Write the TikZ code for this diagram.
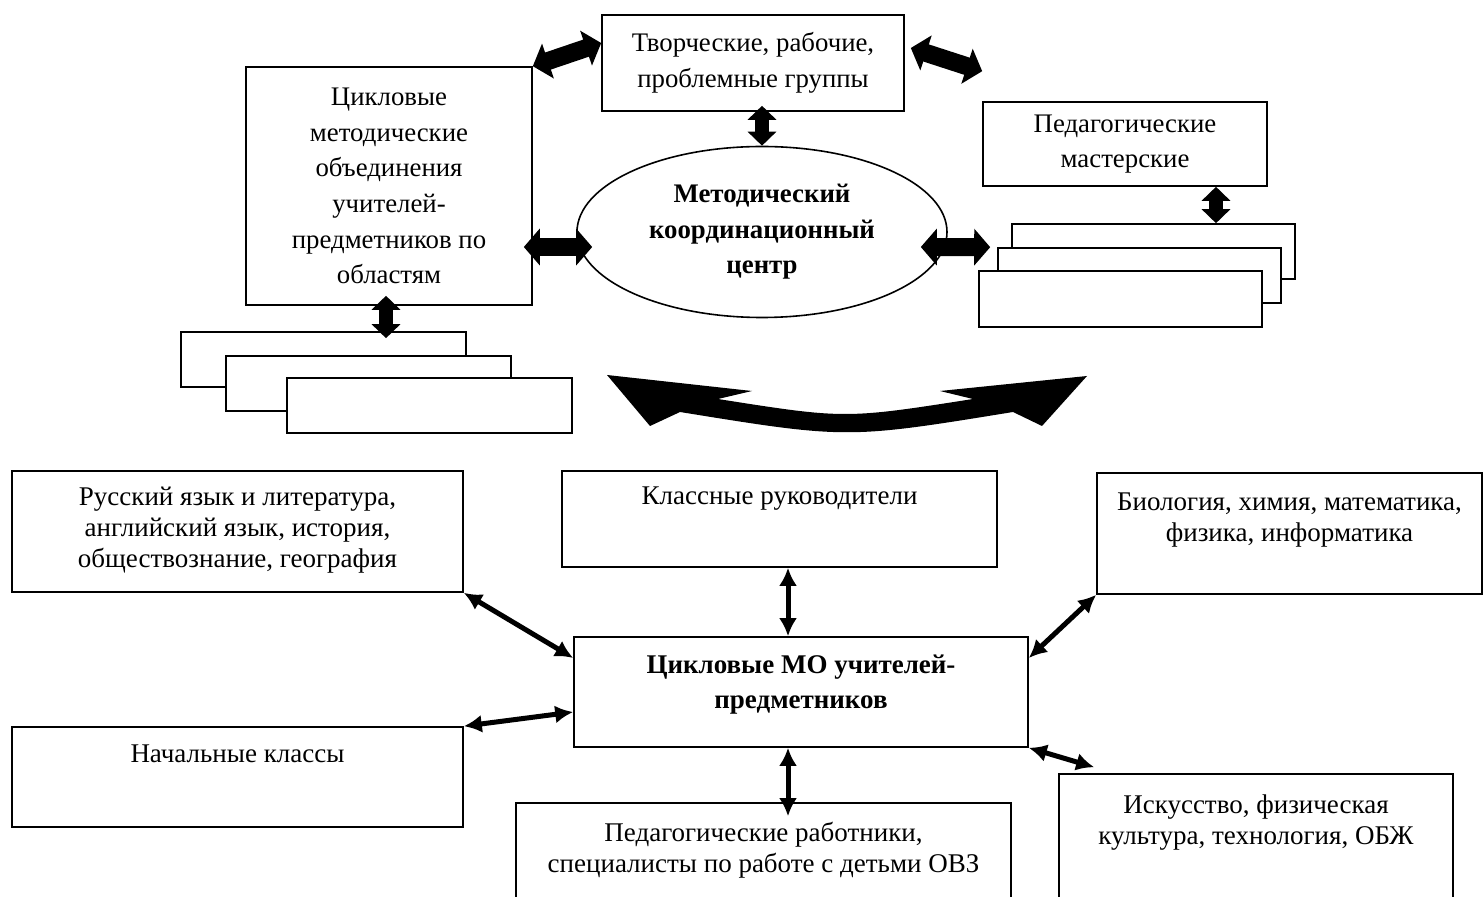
\documentclass[tikz,border=0pt]{standalone}
\usepackage{fontspec}
\setmainfont{Liberation Serif}
\usetikzlibrary{positioning}
\usetikzlibrary{shapes}
\usetikzlibrary{arrows.meta}

\begin{document}
\begin{tikzpicture}[x=0.5pt,y=-0.5pt,align=center,
blok/.style={draw,line width=0.8pt,inner sep=0pt},
stopka/.style={blok,fill=white,minimum height=27.5pt},
tekst/.style={inner sep=0pt,font=\fontsize{13.5}{15.5}\selectfont},
verh/.style={font=\fontsize{13.4}{17.8}\selectfont},
tolstaya/.style={{Triangle[length=8pt,width=18pt]}-{Triangle[length=8pt,width=18pt]},line width=9pt},
srednyaya/.style={{Triangle[length=7pt,width=14pt]}-{Triangle[length=7pt,width=14pt]},line width=7pt},
tonkaya/.style={{Latex[length=9pt,width=9pt]}-{Latex[length=9pt,width=9pt]},line width=2.5pt}
]
\useasboundingbox (0,0) rectangle (1483,897);
\clip (0,0) rectangle (1483,897);
%--
\node[blok,verh,minimum width=151pt,minimum height=48pt](tvorch) at (753,63){Творческие, рабочие,\\проблемные группы};
\node[blok,verh,minimum width=143pt,minimum height=119pt](cikl) at (389,186){Цикловые\\методические\\объединения\\учителей-\\предметников по\\областям};
\node[blok,ellipse,font=\fontsize{13.4}{17.8}\selectfont\bfseries,minimum width=185pt,minimum height=85.5pt](centr) at (762,232){Методический\\координационный\\центр};
\node[blok,verh,minimum width=142pt,minimum height=42pt](pedmast) at (1125,144){Педагогические\\мастерские};
%--
\node[stopka,minimum width=142.5pt](sl1) at (323.5,359.5){};
\node[stopka,minimum width=142.5pt](sl2) at ([xshift=22.5pt,yshift=-12pt]sl1.center){};
\node[stopka,minimum width=142.5pt](sl3) at ([xshift=30.5pt,yshift=-11pt]sl2.center){};
%--
\node[stopka,minimum width=141.5pt](sr1) at (1153.5,251.5){};
\node[stopka,minimum width=141.5pt](sr2) at ([xshift=-7pt,yshift=-12pt]sr1.center){};
\node[stopka,minimum width=141.5pt,minimum height=28pt](sr3) at ([xshift=-9.5pt,yshift=-11.75pt]sr2.center){};
%--
\draw[tolstaya] (cikl.north east) -- ([yshift=10pt]tvorch.west);
\draw[tolstaya] ([xshift=3pt,yshift=7.5pt]tvorch.east) -- ([yshift=15pt]pedmast.north west);
\draw[srednyaya,shorten <=-3pt] (centr.north |- tvorch.south) -- (centr.north);
\draw[tolstaya] ([xshift=-4.5pt,yshift=-30.5pt]cikl.east) -- ([xshift=8pt,yshift=-7.5pt]centr.west);
\draw[tolstaya] ([xshift=-13.5pt,yshift=-7.5pt]centr.east) -- ([xshift=-3.5pt]sr2.north west);
\draw[srednyaya] ([xshift=45.5pt]pedmast.south) -- ([xshift=45.5pt]pedmast.south |- sr1.north);
\draw[srednyaya,shorten <=-5pt,shorten >=-3.5pt] ([xshift=-1.5pt]cikl.south) -- ([xshift=-1.5pt]cikl.south |- sl1.north);
%-- bolshaya strelka
\fill (607,375) -- (752,391) -- (718,399) .. controls (845,419) .. (973,399) -- (940,391) -- (1087,376) -- (1042,426) -- (1013,412) .. controls (847,439) .. (680,412) -- (650,426) -- cycle;
%----
\node[blok,minimum width=225.5pt,minimum height=60.5pt](russ) at (237.5,531.5){};
\node[tekst,below=8.25pt of russ.north](t1){Русский язык и литература,\\английский язык, история,\\обществознание, география};
%--
\node[blok,minimum width=217.5pt,minimum height=48pt](klass) at (779.5,519){};
\node[tekst,below=8.25pt of klass.north](t2){Классные руководители};
%--
\node[blok,minimum width=192.5pt,minimum height=60.5pt](bio) at (1289.5,533.5){};
\node[tekst,below=10.25pt of bio.north](t3){Биология, химия, математика,\\физика, информатика};
%--
\node[blok,minimum width=227pt,minimum height=55pt](mo) at (801,692){};
\node[tekst,font=\fontsize{13.5}{17.5}\selectfont\bfseries,below=9.25pt of mo.north](t4){Цикловые МО учителей-\\предметников};
%--
\node[blok,minimum width=225.5pt,minimum height=50pt](nach) at (237.5,777){};
\node[tekst,below=9.25pt of nach.north](t5){Начальные классы};
%--
\node[blok,minimum width=247.5pt,minimum height=63.5pt](pedrab) at (763.5,866.5){};
\node[tekst,below=9.75pt of pedrab.north](t6){Педагогические работники,\\специалисты по работе с детьми ОВЗ};
%--
\node[blok,minimum width=197pt,minimum height=78pt](isk) at (1256,852){};
\node[tekst,below=10.75pt of isk.north](t7){Искусство, физическая\\культура, технология, ОБЖ};
%----
\draw[tonkaya] ([xshift=4.25pt]klass.south) -- ([xshift=4.25pt]klass.south |- mo.north);
\draw[tonkaya] (russ.south east) -- ([yshift=17pt]mo.west);
\draw[tonkaya] (nach.north east) -- ([yshift=-10pt]mo.west);
\draw[tonkaya] ([yshift=17pt]mo.east) -- (bio.south west);
\draw[tonkaya] (mo.south east) -- ([xshift=18pt,yshift=3pt]isk.north west);
\draw[tonkaya,shorten >=-7pt] ([xshift=-6.5pt]mo.south) -- ([xshift=-6.5pt]mo.south |- pedrab.north);
\end{tikzpicture}
\end{document}
